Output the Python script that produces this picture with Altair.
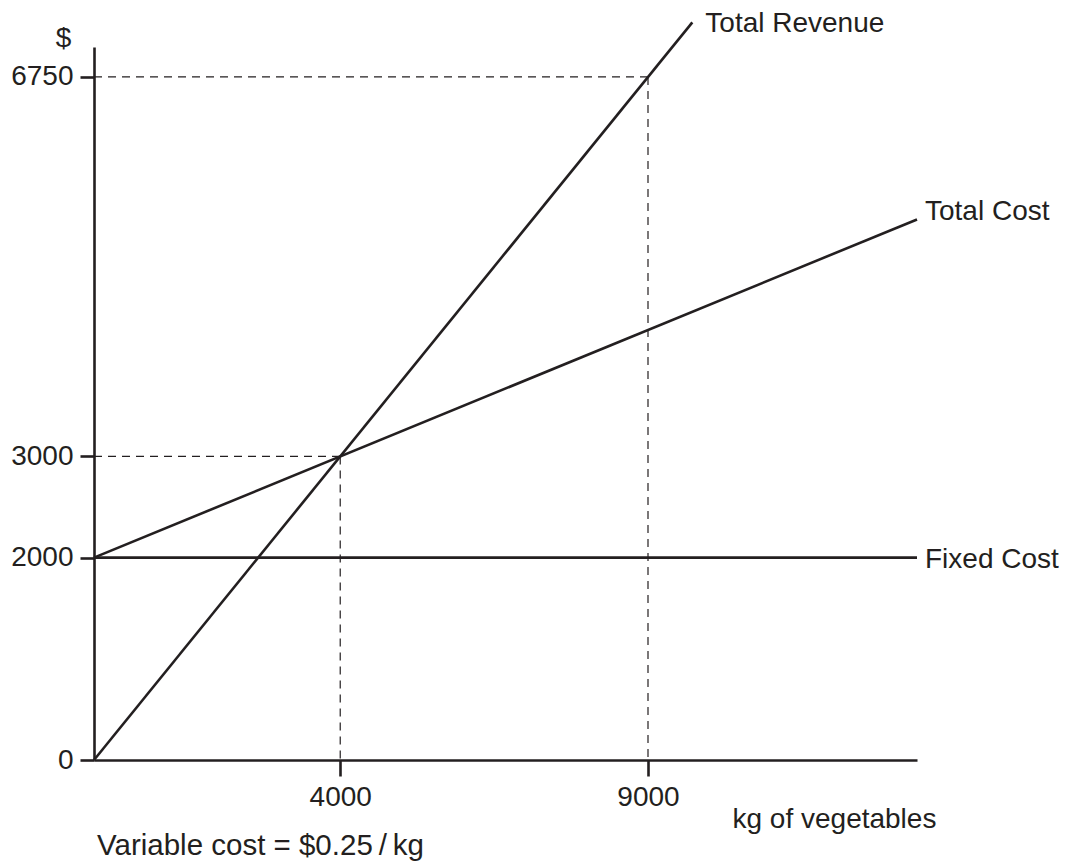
import altair as alt
import pandas as pd

INK = "#231f20"
FONT = "Liberation Sans"

# domain extents
x_max = 13370
y_max = 7046

# lines (end points)
series = ["Total Revenue", "Total Revenue", "Total Cost", "Total Cost", "Fixed Cost", "Fixed Cost"]
line_x = [0, 9720, 0, 13370, 0, 13370]
line_y = [0, 7290, 2000, 5342, 2000, 2000]

# dashed guides
guide_x = [0, 9000, 0, 4000]
guide_x2 = [9000, 9000, 4000, 4000]
guide_y = [6750, 6750, 3000, 3000]
guide_y2 = [6750, 0, 3000, 0]

y_ticks = [0, 2000, 3000, 6750]
x_ticks = [4000, 9000]

note_text = ["Variable cost = $0.25\u2009/\u2009kg"]

lines_df = pd.DataFrame({"series": series, "x": line_x, "y": line_y})
guides_df = pd.DataFrame({"x": guide_x, "x2": guide_x2, "y": guide_y, "y2": guide_y2})

x_enc = alt.X(
    "x:Q",
    scale=alt.Scale(domain=[0, x_max], nice=False, zero=False),
    axis=alt.Axis(
        values=x_ticks, format="d", grid=False,
        title="kg of vegetables", titleX=638, titleY=67, titleAlign="left",
        titleBaseline="alphabetic", titleFont=FONT, titleFontSize=28,
        titleFontWeight="normal", titleColor=INK,
        domainColor=INK, domainWidth=2.6, tickColor=INK, tickWidth=2.6,
        tickSize=16, labelFont=FONT, labelFontSize=28, labelColor=INK,
        labelPadding=7,
    ),
)
y_enc = alt.Y(
    "y:Q",
    scale=alt.Scale(domain=[0, y_max], nice=False, zero=False),
    axis=alt.Axis(
        values=y_ticks, format="d", grid=False,
        title="$", titleAngle=0, titleX=-31, titleY=-1, titleAlign="center",
        titleBaseline="alphabetic", titleFont=FONT, titleFontSize=28,
        titleFontWeight="normal", titleColor=INK,
        domainColor=INK, domainWidth=2.6, tickColor=INK, tickWidth=2.6,
        tickSize=14, labelFont=FONT, labelFontSize=28, labelColor=INK,
        labelPadding=7,
    ),
)

lines = alt.Chart(lines_df).mark_line(color=INK, strokeWidth=2.6).encode(
    x=x_enc, y=y_enc, detail="series:N"
)

guides = alt.Chart(guides_df).mark_rule(
    color=INK, strokeWidth=1.2, strokeDash=[8, 6]
).encode(x=x_enc, x2="x2:Q", y=y_enc, y2="y2:Q")


def end_label(name, dx, dy):
    df = lines_df[lines_df["series"] == name].iloc[[1]]
    return alt.Chart(df).mark_text(
        align="left", baseline="middle", dx=dx, dy=dy,
        font=FONT, fontSize=28, color=INK,
    ).encode(x=x_enc, y=y_enc, text="series:N")


lab_rev = end_label("Total Revenue", 13, 2)
lab_tc = end_label("Total Cost", 8, -7)
lab_fc = end_label("Fixed Cost", 8, 2)

note = alt.Chart(pd.DataFrame({"t": note_text})).mark_text(
    align="left", baseline="alphabetic", font=FONT, fontSize=29.5, color=INK
).encode(x=alt.value(3), y=alt.value(808), text="t:N")

chart = alt.layer(guides, lines, lab_rev, lab_tc, lab_fc, note).properties(
    width=823, height=713,
    background="white",
    autosize=alt.AutoSizeParams(type="none"),
    padding={"left": 86, "top": 39, "right": 144, "bottom": 110},
).configure_view(stroke=None, strokeWidth=0)

chart.save("out.html", embed_options={"renderer": "svg", "actions": False})
